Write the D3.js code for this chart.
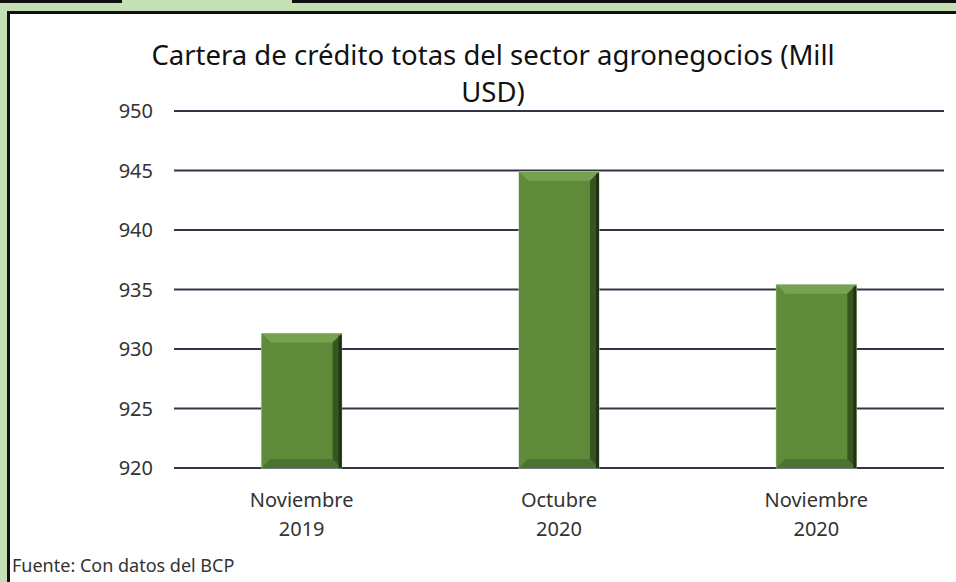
<!DOCTYPE html>
<html>
<head>
<meta charset="utf-8">
<script src="https://cdn.jsdelivr.net/npm/d3@7"></script>
<style>
  html, body { margin: 0; padding: 0; background: #c5e0b4; }
  svg { display: block; font-family: "Noto Sans", "Open Sans", sans-serif; }
</style>
</head>
<body>
<svg id="chart" width="956" height="582"></svg>
<script>
// Cartera de crédito, sector agronegocios (Mill USD)
const categories = [["Noviembre", "2019"], ["Octubre", "2020"], ["Noviembre", "2020"]];
const values = [931.3, 944.9, 935.4];
const yTicks = [920, 925, 930, 935, 940, 945, 950];

const W = 956, H = 582;

const svg = d3.select("#chart");

// frame: green page, black strips on top, white chart area
svg.append("rect").attr("x", 0).attr("y", 0).attr("width", 122).attr("height", 3).attr("fill", "#111");
svg.append("rect").attr("x", 292).attr("y", 0).attr("width", W - 292).attr("height", 3).attr("fill", "#111");
svg.append("rect").attr("x", 7).attr("y", 11).attr("width", W).attr("height", H)
  .attr("fill", "#fff");
svg.append("line").attr("x1", 7).attr("x2", W).attr("y1", 12.5).attr("y2", 12.5)
  .attr("stroke", "#111").attr("stroke-width", 3);
svg.append("line").attr("x1", 8.5).attr("x2", 8.5).attr("y1", 11).attr("y2", H)
  .attr("stroke", "#111").attr("stroke-width", 3);

const x = d3.scaleBand().domain(d3.range(categories.length)).range([173, 945]);
const y = d3.scaleLinear().domain([920, 950]).range([468, 111]);

// gridlines
svg.append("g")
  .selectAll("line")
  .data(yTicks)
  .join("line")
  .attr("x1", 174).attr("x2", 944)
  .attr("y1", d => y(d)).attr("y2", d => y(d))
  .attr("stroke", "#2e3744").attr("stroke-width", 2);

// y tick labels
svg.append("g")
  .selectAll("text")
  .data(yTicks)
  .join("text")
  .attr("x", 153).attr("y", d => y(d) + 7)
  .attr("text-anchor", "end")
  .attr("font-size", 20)
  .attr("fill", "#333")
  .text(d => d);

// bars with a bevel look
const bw = 80, b = 9;
const bars = svg.append("g").selectAll("g").data(values).join("g");
bars.each(function(v, i) {
  const g = d3.select(this);
  const cx = x(i) + x.bandwidth() / 2;
  const x0 = cx - bw / 2, x1 = cx + bw / 2, y0 = y(v), y1 = y(920);
  g.append("rect").attr("x", x0).attr("y", y0).attr("width", bw).attr("height", y1 - y0)
    .attr("fill", "#5e8a3a").attr("stroke", "#b8c4ae").attr("stroke-width", 1);
  const poly = (pts, fill) => g.append("polygon")
    .attr("points", pts.map(p => p.join(",")).join(" ")).attr("fill", fill);
  poly([[x0, y0], [x1, y0], [x1 - b, y0 + b], [x0 + b, y0 + b]], "#77a350");
  poly([[x0, y0], [x0 + b, y0 + b], [x0 + b, y1 - b], [x0, y1]], "#5f8c3b");
  poly([[x0, y1], [x0 + b, y1 - b], [x1 - b, y1 - b], [x1, y1]], "#4a7230");
  poly([[x1, y0], [x1, y1], [x1 - b, y1 - b], [x1 - b, y0 + b]], "#37561f");
  g.append("rect").attr("x", x1 - 3).attr("y", y0 + 2).attr("width", 3).attr("height", y1 - y0 - 2)
    .attr("fill", "#1f3312");
});

// category labels
const cat = svg.append("g").selectAll("text").data(categories).join("text")
  .attr("text-anchor", "middle")
  .attr("font-size", 20)
  .attr("fill", "#333");
cat.each(function(c, i) {
  const t = d3.select(this);
  const cx = x(i) + x.bandwidth() / 2;
  c.forEach((line, k) => {
    t.append("tspan").attr("x", cx).attr("y", 507 + k * 29).text(line);
  });
});

// title
svg.append("text").attr("x", 493).attr("y", 65)
  .attr("text-anchor", "middle").attr("font-size", 27.5).attr("fill", "#111")
  .text("Cartera de crédito totas del sector agronegocios (Mill");
svg.append("text").attr("x", 493).attr("y", 102)
  .attr("text-anchor", "middle").attr("font-size", 27.5).attr("fill", "#111")
  .text("USD)");

// source note
svg.append("text").attr("x", 12).attr("y", 572)
  .attr("font-size", 18).attr("fill", "#333")
  .text("Fuente: Con datos del BCP");
</script>
</body>
</html>
